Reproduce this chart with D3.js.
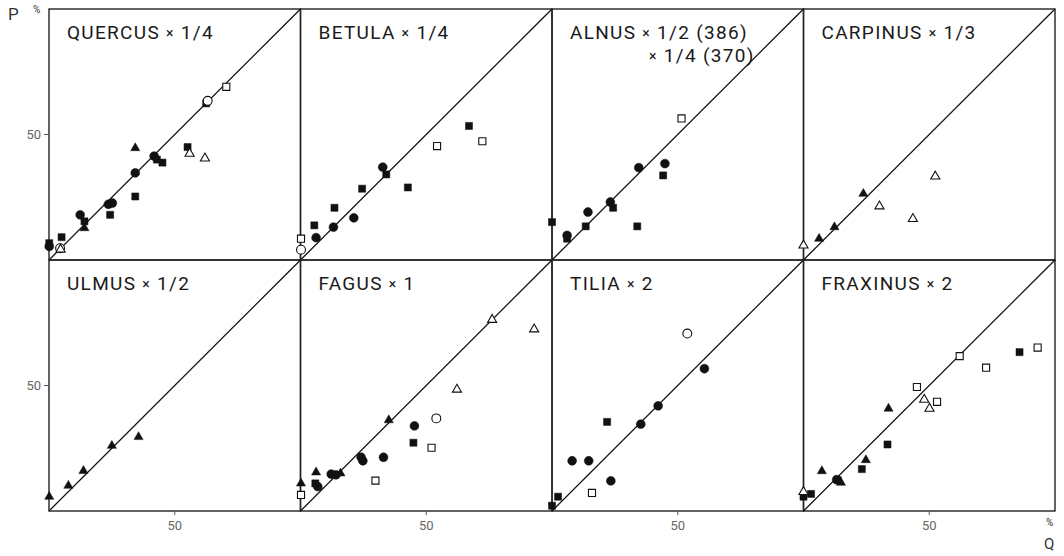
<!DOCTYPE html>
<html>
<head>
<meta charset="utf-8">
<script src="https://cdn.jsdelivr.net/npm/d3@7"></script>
<style>
  body { margin: 0; background: #fff; }
  .title { font-family: Roboto, "Liberation Sans", sans-serif; font-size: 19px; fill: #1a1a1a; letter-spacing: 1.3px; }
  .tick-label { font-family: Roboto, sans-serif; font-size: 13px; fill: #666; }
  .axis-name { font-family: Roboto, sans-serif; fill: #333; }
</style>
</head>
<body>
<div class="chart"></div>
<script>
// Chart size
var svgWidth = 1064;
var svgHeight = 556;

// Panel titles (row by row)
var taxa = ["QUERCUS", "BETULA", "ALNUS", "CARPINUS", "ULMUS", "FAGUS", "TILIA", "FRAXINUS"];
var factors = ["1/4", "1/4", "1/2 (386)", "1/3", "1/2", "1", "2", "2"];
var factors2 = [null, null, "1/4 (370)", null, null, null, null, null];

// Tick values
var tickValues = [50];

// Points: [Q %, P %, symbol]  fc/oc = filled/open circle, fs/os = square, ft/ot = triangle
var quercusPts = [
  [70.5, 69.0, "os"], [62.5, 62.4, "fs"], [63.1, 63.4, "oc"], [34.3, 44.6, "ft"],
  [41.8, 41.4, "fc"], [42.9, 40.0, "fs"], [45.1, 38.8, "fs"], [55.1, 45.0, "fs"],
  [55.9, 42.4, "ot"], [62.0, 40.5, "ot"], [34.3, 34.7, "fc"], [34.3, 25.3, "fs"],
  [23.6, 22.2, "fc"], [25.2, 22.7, "fc"], [24.3, 18.0, "fs"], [12.4, 18.0, "fc"],
  [14.1, 15.4, "fs"], [14.1, 12.7, "ft"], [5.0, 9.1, "fs"], [0.1, 6.7, "fs"],
  [0.1, 5.4, "fc"], [4.4, 4.7, "oc"], [4.6, 4.2, "ot"]
];
var betulaPts = [
  [67.0, 53.4, "fs"], [72.3, 47.3, "os"], [54.3, 45.4, "os"], [32.7, 37.0, "fc"],
  [34.1, 34.1, "fs"], [42.7, 28.9, "fs"], [24.5, 28.4, "fs"], [13.5, 20.8, "fs"],
  [21.2, 16.8, "fc"], [5.5, 13.8, "fs"], [13.1, 13.1, "fc"], [6.2, 8.9, "fc"],
  [0.2, 8.5, "os"], [0.2, 4.1, "oc"]
];
var alnusPts = [
  [51.5, 56.4, "os"], [44.9, 38.4, "fc"], [34.5, 36.8, "fc"], [44.2, 33.7, "fs"],
  [23.2, 23.1, "fc"], [24.3, 20.8, "fs"], [14.3, 19.1, "fc"], [13.4, 13.4, "fs"],
  [33.9, 13.4, "fs"], [0.0, 15.1, "fs"], [6.0, 9.8, "fc"], [6.0, 8.5, "fs"]
];
var carpinusPts = [
  [52.4, 33.3, "ot"], [30.2, 21.4, "ot"], [43.5, 16.4, "ot"], [23.8, 26.4, "ft"],
  [12.3, 13.1, "ft"], [6.2, 8.5, "ft"], [0.0, 5.8, "ot"]
];
var ulmusPts = [
  [35.6, 29.5, "ft"], [25.0, 26.0, "ft"], [13.7, 16.0, "ft"], [7.7, 10.1, "ft"],
  [0.1, 5.7, "ft"]
];
var fagusPts = [
  [76.2, 76.2, "ot"], [92.9, 72.4, "ot"], [62.2, 48.4, "ot"], [54.0, 36.9, "oc"],
  [45.3, 33.9, "fc"], [44.9, 27.2, "fs"], [52.1, 25.2, "os"], [35.1, 36.2, "ft"],
  [33.0, 21.4, "fc"], [24.1, 21.4, "fc"], [24.8, 20.0, "fc"], [29.8, 12.1, "os"],
  [12.2, 14.7, "fc"], [14.1, 14.4, "fc"], [15.9, 15.0, "ft"], [6.2, 15.4, "ft"],
  [5.9, 11.0, "fs"], [6.9, 9.7, "fc"], [0.2, 11.0, "ft"], [0.2, 6.4, "os"]
];
var tiliaPts = [
  [53.8, 70.7, "oc"], [60.6, 56.7, "fc"], [42.2, 41.9, "fc"], [35.3, 34.6, "fc"],
  [21.9, 35.5, "fs"], [8.0, 20.0, "fc"], [14.6, 20.0, "fc"], [23.4, 12.0, "fc"],
  [15.9, 7.2, "os"], [2.4, 5.7, "fs"], [0.0, 2.1, "fs"]
];
var fraxinusPts = [
  [93.1, 65.1, "os"], [85.9, 63.3, "fs"], [62.1, 61.7, "os"], [72.6, 57.1, "os"],
  [45.1, 49.4, "os"], [48.0, 44.4, "ot"], [53.1, 43.5, "os"], [50.1, 40.8, "ot"],
  [33.8, 40.8, "ft"], [33.4, 26.5, "fs"], [24.8, 20.3, "ft"], [23.2, 16.7, "fs"],
  [7.3, 15.9, "ft"], [13.2, 12.5, "fc"], [13.6, 12.3, "fs"], [14.9, 11.3, "ft"],
  [3.0, 6.8, "fs"], [0.0, 5.7, "fs"], [0.0, 7.6, "ot"]
];
var panelPts = [quercusPts, betulaPts, alnusPts, carpinusPts, ulmusPts, fagusPts, tiliaPts, fraxinusPts];

// Panel grid
var gridLeft = 49, gridTop = 9;
var panelW = 251.5, panelH = 251;

var svg = d3.select(".chart").append("svg")
  .attr("width", svgWidth)
  .attr("height", svgHeight);

var symbolType = {c: d3.symbolCircle, s: d3.symbolSquare, t: d3.symbolTriangle};
var symbolSize = {c: 62, s: 50, t: 36};

taxa.forEach(function(name, i) {
  var col = i % 4, row = Math.floor(i / 4);
  var x0 = gridLeft + col * panelW, y0 = gridTop + row * panelH;
  var x = d3.scaleLinear().domain([0, 100]).range([x0, x0 + panelW]);
  var y = d3.scaleLinear().domain([0, 100]).range([y0 + panelH, y0]);
  var g = svg.append("g");

  // frame
  g.append("rect")
    .attr("x", x0).attr("y", y0)
    .attr("width", panelW).attr("height", panelH)
    .attr("fill", "none").attr("stroke", "#222").attr("stroke-width", 1.4);

  // 1:1 line
  g.append("line")
    .attr("x1", x(0)).attr("y1", y(0))
    .attr("x2", x(100)).attr("y2", y(100))
    .attr("stroke", "#111").attr("stroke-width", 1.3);

  // title
  var t = g.append("text").attr("class", "title")
    .attr("x", x0 + 18).attr("y", y0 + 30);
  t.append("tspan").text(name + "   ");
  t.append("tspan").attr("font-size", "14px").attr("dy", -1).text("×");
  t.append("tspan").attr("dy", 1).text(" " + factors[i]);
  if (factors2[i]) {
    var t2 = g.append("text").attr("class", "title")
      .attr("x", x0 + 97).attr("y", y0 + 53);
    t2.append("tspan").attr("font-size", "14px").attr("dy", -1).text("×");
    t2.append("tspan").attr("dy", 1).text(" " + factors2[i]);
  }

  // y ticks on first column
  if (col === 0) {
    tickValues.forEach(function(v) {
      g.append("line").attr("x1", x0 - 5).attr("x2", x0)
        .attr("y1", y(v)).attr("y2", y(v)).attr("stroke", "#555");
      g.append("text").attr("class", "tick-label")
        .attr("x", x0 - 8).attr("y", y(v)).attr("dy", "0.35em")
        .attr("text-anchor", "end").text(v);
    });
  }
  // x ticks on bottom row
  if (row === 1) {
    tickValues.forEach(function(v) {
      g.append("line").attr("x1", x(v)).attr("x2", x(v))
        .attr("y1", y0 + panelH).attr("y2", y0 + panelH + 4).attr("stroke", "#555");
      g.append("text").attr("class", "tick-label")
        .attr("x", x(v)).attr("y", y0 + panelH + 19)
        .attr("text-anchor", "middle").text(v);
    });
  }

  // points
  g.selectAll("path.pt")
    .data(panelPts[i])
    .enter()
    .append("path")
    .attr("class", "pt")
    .attr("transform", function(d) { return "translate(" + x(d[0]) + "," + y(d[1]) + ")"; })
    .attr("d", function(d) {
      var k = d[2].charAt(1);
      return d3.symbol().type(symbolType[k]).size(symbolSize[k])();
    })
    .attr("fill", function(d) { return d[2].charAt(0) === "f" ? "#111" : "#fff"; })
    .attr("stroke", "#111")
    .attr("stroke-width", function(d) { return d[2].charAt(0) === "f" ? 0.5 : 1.1; });
});

// axis names
svg.append("text").attr("class", "axis-name").attr("x", 8).attr("y", 20)
  .attr("font-size", "17px").text("P");
svg.append("text").attr("class", "axis-name").attr("x", 33).attr("y", 13)
  .attr("font-size", "10px").text("%");
svg.append("text").attr("class", "axis-name").attr("x", 1046).attr("y", 526)
  .attr("font-size", "10px").text("%");
svg.append("text").attr("class", "axis-name").attr("x", 1044).attr("y", 549)
  .attr("font-size", "15px").text("Q");
</script>
</body>
</html>
